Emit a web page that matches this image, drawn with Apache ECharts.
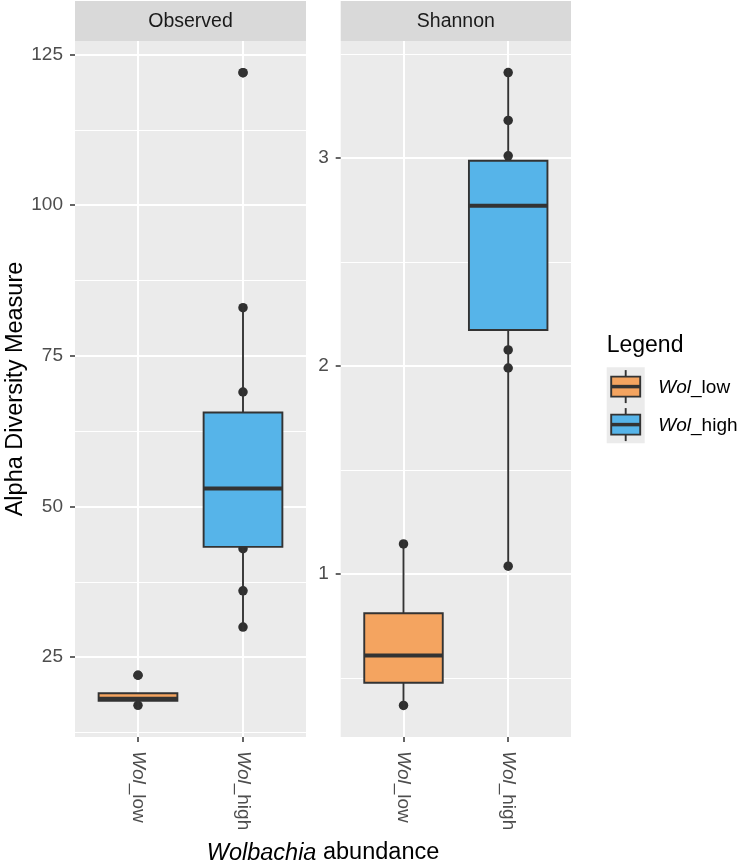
<!DOCTYPE html>
<html><head><meta charset="utf-8">
<script src="https://cdn.jsdelivr.net/npm/echarts@6/dist/echarts.min.js"></script>
<style>html,body{margin:0;padding:0;background:#fff}#c{width:739px;height:866px}</style>
</head><body><div id="c"></div>
<script>
// ---------- data ----------
const categories = ['Wol_low', 'Wol_high'];
const facets = ['Observed', 'Shannon'];
// box stats: [lower whisker, Q1, median, Q3, upper whisker]
const observedBoxLow = [17, 17.75, 18.1, 19, 19];
const observedBoxHigh = [30, 43.3, 53, 65.6, 83];
const shannonBoxLow = [0.368, 0.477, 0.608, 0.811, 1.144];
const shannonBoxHigh = [1.037, 2.173, 2.77, 2.986, 3.41];
const observedPointsLow = [17, 22];
const observedPointsHigh = [30, 36, 43, 69, 83, 122];
const shannonPointsLow = [0.368, 1.144];
const shannonPointsHigh = [1.037, 1.99, 2.077, 3.01, 3.18, 3.41];
const observedOutliersLow = [22];
const observedOutliersHigh = [122];
const shannonOutliersLow = [];
const shannonOutliersHigh = [];
const observedRange = [11.75, 127.25];
const shannonRange = [0.216, 3.562];
const observedMajorTicks = [25, 50, 75, 100, 125];
const observedMinorTicks = [12.5, 37.5, 62.5, 87.5, 112.5];
const shannonMajorTicks = [1, 2, 3];
const shannonMinorTicks = [0.5, 1.5, 2.5, 3.5];
const legendTitle = 'Legend';
const yTitle = 'Alpha Diversity Measure';
const xTitleItalic = 'Wolbachia';
const xTitleRest = ' abundance';

// ---------- layout / style ----------
const FONT = "'Liberation Sans', Arial, Helvetica, sans-serif";
const PANEL_TOP = 41, PANEL_H = 696;
const PANELS_X = [[75, 306], [340.7, 571]];
const GROUP_COLORS = ['#F4A460', '#56B4E9'];
const DARK = '#333333';

const panels = [
  {name: facets[0], range: observedRange, major: observedMajorTicks, minor: observedMinorTicks,
   boxes: [observedBoxLow, observedBoxHigh], points: [observedPointsLow, observedPointsHigh],
   outliers: [observedOutliersLow, observedOutliersHigh]},
  {name: facets[1], range: shannonRange, major: shannonMajorTicks, minor: shannonMinorTicks,
   boxes: [shannonBoxLow, shannonBoxHigh], points: [shannonPointsLow, shannonPointsHigh],
   outliers: [shannonOutliersLow, shannonOutliersHigh]}
];
function py(v, r) { return PANEL_TOP + (r[1] - v) / (r[1] - r[0]) * PANEL_H; }

const grids = [], xAxes = [], yAxes = [], series = [], graphics = [];
const catLabel = v => '{i|' + v.slice(0, 3) + '}{n|' + v.slice(3) + '}';

panels.forEach((p, k) => {
  const [x0, x1] = PANELS_X[k];
  const w = x1 - x0;
  const unit = w / 2.2;
  const base = grids.length;
  const hidden = {axisLine: {show: false}, axisTick: {show: false}, axisLabel: {show: false}};
  // background
  grids.push({left: x0, top: PANEL_TOP, width: w, height: PANEL_H, show: true,
    backgroundColor: '#EBEBEB', borderWidth: 0, borderColor: 'transparent'});
  xAxes.push({type: 'value', gridIndex: base, show: false, min: 0, max: 1});
  yAxes.push({type: 'value', gridIndex: base, show: false, min: p.range[0], max: p.range[1]});
  // minor grid lines
  const mTop = py(p.minor[p.minor.length - 1], p.range);
  const mBot = py(p.minor[0], p.range);
  grids.push({left: x0, top: mTop, width: w, height: mBot - mTop});
  xAxes.push({type: 'value', gridIndex: base + 1, show: false, min: 0, max: 1});
  yAxes.push(Object.assign({type: 'value', gridIndex: base + 1, min: 0, max: p.minor.length - 1, interval: 1,
    splitLine: {show: true, lineStyle: {color: '#FFFFFF', width: 1}}}, hidden));
  // major grid lines + labels
  const jTop = py(p.major[p.major.length - 1], p.range);
  const jBot = py(p.major[0], p.range);
  grids.push({left: x0, top: jTop, width: w, height: jBot - jTop});
  xAxes.push({type: 'value', gridIndex: base + 2, show: false, min: 0, max: 1});
  yAxes.push({type: 'value', gridIndex: base + 2, min: p.major[0], max: p.major[p.major.length - 1],
    interval: p.major[1] - p.major[0],
    axisLine: {show: false},
    axisTick: {show: true, length: 5, lineStyle: {color: DARK, width: 1.5}},
    axisLabel: {show: true, margin: 12, color: '#4D4D4D', fontSize: 19, fontFamily: FONT},
    splitLine: {show: true, lineStyle: {color: '#FFFFFF', width: 2}}});
  // data grid (category axis)
  grids.push({left: x0 + 0.6 * unit, top: PANEL_TOP, width: unit, height: PANEL_H});
  xAxes.push({type: 'category', gridIndex: base + 3, data: categories, boundaryGap: false,
    axisLine: {show: false},
    axisTick: {show: true, length: 5, interval: 0, lineStyle: {color: DARK, width: 1.5}},
    axisLabel: {show: true, interval: 0, rotate: -90, margin: 14, color: '#4D4D4D', fontSize: 19, fontFamily: FONT,
      formatter: catLabel,
      rich: {i: {fontStyle: 'italic', color: '#4D4D4D', fontSize: 19, fontFamily: FONT},
             n: {color: '#4D4D4D', fontSize: 19, fontFamily: FONT}}},
    splitLine: {show: true, lineStyle: {color: '#FFFFFF', width: 2}}});
  yAxes.push({type: 'value', gridIndex: base + 3, show: false, min: p.range[0], max: p.range[1]});

  const pts = [];
  p.points.forEach((arr, i) => arr.forEach(v => pts.push([i, v])));
  series.push({type: 'scatter', xAxisIndex: base + 3, yAxisIndex: base + 3, data: pts,
    symbolSize: 9.5, itemStyle: {color: '#000000'}, z: 2, clip: false, silent: true});
  series.push({type: 'custom', xAxisIndex: base + 3, yAxisIndex: base + 3, z: 3, silent: true,
    data: p.boxes.map((b, i) => [i].concat(b)),
    encode: {x: 0, y: [1, 2, 3, 4, 5]},
    renderItem: function (params, api) {
      const x = api.value(0);
      const lo = api.coord([x, api.value(1)]);
      const q1 = api.coord([x, api.value(2)]);
      const md = api.coord([x, api.value(3)]);
      const q3 = api.coord([x, api.value(4)]);
      const hi = api.coord([x, api.value(5)]);
      const hw = api.size([1, 0])[0] * 0.375;
      const ls = {stroke: DARK, lineWidth: 1.9};
      return {type: 'group', children: [
        {type: 'line', shape: {x1: lo[0], y1: lo[1], x2: q1[0], y2: q1[1]}, style: ls},
        {type: 'line', shape: {x1: q3[0], y1: q3[1], x2: hi[0], y2: hi[1]}, style: ls},
        {type: 'rect', shape: {x: q1[0] - hw, y: q3[1], width: 2 * hw, height: q1[1] - q3[1]},
          style: {fill: GROUP_COLORS[params.dataIndex], stroke: DARK, lineWidth: 1.9}},
        {type: 'line', shape: {x1: md[0] - hw, y1: md[1], x2: md[0] + hw, y2: md[1]},
          style: {stroke: DARK, lineWidth: 4}}
      ]};
    }});
  const outs = [];
  p.outliers.forEach((arr, i) => arr.forEach(v => outs.push([i, v])));
  series.push({type: 'scatter', xAxisIndex: base + 3, yAxisIndex: base + 3, data: outs,
    symbolSize: 9.5, itemStyle: {color: DARK}, z: 4, clip: false, silent: true});

  // strip
  graphics.push({type: 'rect', shape: {x: x0, y: 1, width: w, height: 40}, style: {fill: '#D9D9D9'}, silent: true});
  graphics.push({type: 'text', x: (x0 + x1) / 2, y: 21.5, silent: true,
    style: {text: p.name, fontSize: 19.5, fontFamily: FONT, fill: '#1A1A1A',
      align: 'center', verticalAlign: 'middle', textAlign: 'center', textVerticalAlign: 'middle'}});
});

// axis titles
graphics.push({type: 'text', x: 15.5, y: 389, rotation: Math.PI / 2, silent: true,
  style: {text: yTitle, fontSize: 23.5, fontFamily: FONT, fill: '#000000',
    align: 'center', verticalAlign: 'middle', textAlign: 'center', textVerticalAlign: 'middle'}});
graphics.push({type: 'text', x: 323, y: 853, silent: true,
  style: {text: '{i|' + xTitleItalic + '}' + xTitleRest, fontSize: 23.5, fontFamily: FONT, fill: '#000000',
    align: 'center', verticalAlign: 'middle', textAlign: 'center', textVerticalAlign: 'middle',
    rich: {i: {fontStyle: 'italic', fontSize: 23.5, fontFamily: FONT, fill: '#000000'}}}});

// legend
const LX = 606.7, LY = 367.3, KEY = 38;
graphics.push({type: 'text', x: LX, y: 345.5, silent: true,
  style: {text: legendTitle, fontSize: 23, fontFamily: FONT, fill: '#000000',
    align: 'left', verticalAlign: 'middle', textAlign: 'left', textVerticalAlign: 'middle'}});
graphics.push({type: 'rect', shape: {x: LX, y: LY, width: KEY, height: KEY * categories.length},
  style: {fill: '#EBEBEB'}, silent: true});
categories.forEach((c, i) => {
  const cx = LX + KEY / 2, cy = LY + KEY * i + KEY / 2 + 0.3;
  graphics.push({type: 'line', shape: {x1: cx, y1: cy - 16.5, x2: cx, y2: cy + 16.5},
    style: {stroke: DARK, lineWidth: 1.9}, silent: true});
  graphics.push({type: 'rect', shape: {x: cx - 14.5, y: cy - 10, width: 29, height: 20},
    style: {fill: GROUP_COLORS[i], stroke: DARK, lineWidth: 1.9}, silent: true});
  graphics.push({type: 'line', shape: {x1: cx - 14.5, y1: cy, x2: cx + 14.5, y2: cy},
    style: {stroke: DARK, lineWidth: 3.5}, silent: true});
  graphics.push({type: 'text', x: 658.3, y: cy + 1, silent: true,
    style: {text: '{i|' + c.slice(0, 3) + '}' + c.slice(3), fontSize: 19, fontFamily: FONT, fill: '#000000',
      align: 'left', verticalAlign: 'middle', textAlign: 'left', textVerticalAlign: 'middle',
      rich: {i: {fontStyle: 'italic', fontSize: 19, fontFamily: FONT, fill: '#000000'}}}});
});

const chart = echarts.init(document.getElementById('c'), null, {renderer: 'canvas'});
chart.setOption({
  animation: false,
  backgroundColor: '#FFFFFF',
  grid: grids, xAxis: xAxes, yAxis: yAxes, series: series,
  graphic: {elements: graphics}
});
</script>
</body></html>
